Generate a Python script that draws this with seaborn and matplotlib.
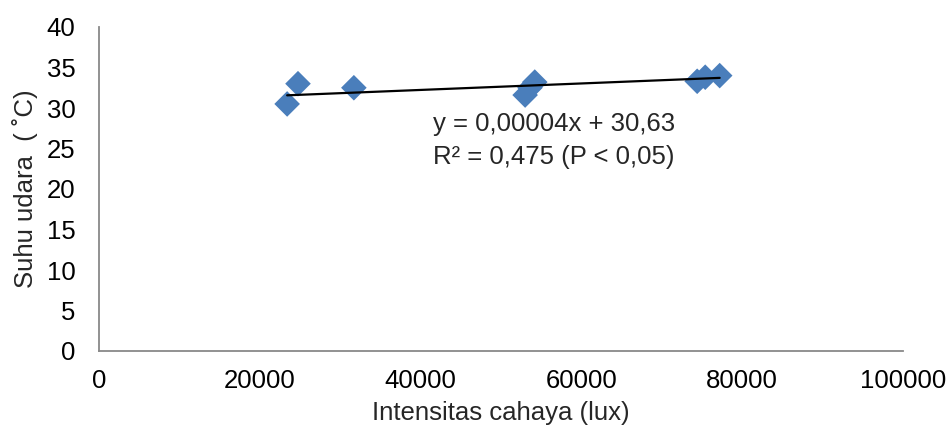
import matplotlib
matplotlib.use("Agg")
import matplotlib.pyplot as plt
import seaborn as sns
import numpy as np
import pandas as pd

# Data
light_lux = [23400, 24750, 31700, 53000, 54200, 53600, 74400, 75400, 77200]
air_temp = [30.5, 33.0, 32.5, 31.6, 33.2, 32.5, 33.3, 33.8, 34.0]
slope = 0.00004
intercept = 30.63
eq_text = "y = 0,00004x + 30,63"
r2_text = "R² = 0,475 (P < 0,05)"
x_ticks = [0, 20000, 40000, 60000, 80000, 100000]
y_ticks = [0, 5, 10, 15, 20, 25, 30, 35, 40]

df = pd.DataFrame({"x": light_lux, "y": air_temp})

sns.set_style("white")
plt.rcParams["font.family"] = ["Liberation Sans", "DejaVu Sans"]

fig = plt.figure(figsize=(9.51, 4.34), dpi=100)
# axes: x from 99px to 903px, y from 351px (0) up to 27px (40)
ax = fig.add_axes([99 / 951, (434 - 351) / 434, (903 - 99) / 951, (351 - 27) / 434])

sns.scatterplot(data=df, x="x", y="y", marker="D", s=170, color="#4A7EBB",
                edgecolor="none", ax=ax, zorder=3, clip_on=False)

xl = np.array([min(light_lux), max(light_lux)])
ax.plot(xl, slope * xl + intercept, color="black", lw=1.6, zorder=4)

ax.set_xlim(0, 100000)
ax.set_ylim(0, 40)
ax.set_xticks(x_ticks)
ax.set_yticks(y_ticks)
ax.set_xticklabels([str(t) for t in x_ticks])
ax.set_yticklabels([str(t) for t in y_ticks])
ax.tick_params(axis="both", length=0, labelsize=18.5, colors="black")
ax.tick_params(axis="x", pad=13)
ax.tick_params(axis="y", pad=17)

for s in ["top", "right"]:
    ax.spines[s].set_visible(False)
for s in ["left", "bottom"]:
    ax.spines[s].set_color("#898989")
    ax.spines[s].set_linewidth(1.3)

ax.set_xlabel("Intensitas cahaya (lux)", fontsize=18.5, labelpad=6)
ax.set_ylabel("Suhu udara  ( ˚C)", fontsize=18.5, labelpad=6)

ax.text(41500, 28.0, eq_text, fontsize=18.5, ha="left", va="center")
ax.text(41500, 24.0, r2_text, fontsize=18.5, ha="left", va="center")

fig.savefig("out.png", dpi=100)
